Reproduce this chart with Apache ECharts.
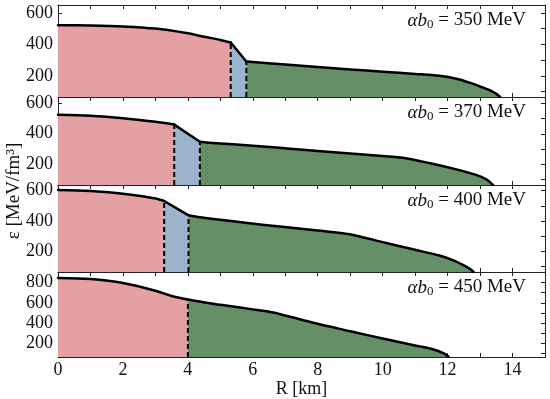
<!DOCTYPE html>
<html>
<head>
<meta charset="utf-8">
<script src="https://cdn.jsdelivr.net/npm/echarts@6/dist/echarts.min.js"></script>
<style>html,body{margin:0;padding:0;background:#fff}#c{width:550px;height:399px}</style>
</head>
<body>
<div id="c"></div>
<script>
// ---- data (R in km, epsilon in MeV/fm^3) ----
const panelLabels = ['350', '370', '400', '450'];
const yMin = [65, 64, 61, 65];
const yMax = [650, 641, 638, 903];
const yLabelTicks = [[200, 400, 600], [200, 400, 600], [200, 400, 600], [200, 400, 600, 800]];
const yMinorTicks = [[100, 200, 300, 400, 500, 600], [100, 200, 300, 400, 500, 600], [100, 200, 300, 400, 500, 600], [100, 200, 300, 400, 500, 600, 700, 800]];
const xTickLabels = [0, 2, 4, 6, 8, 10, 12, 14];

const red350 = [[0,522],[1,520],[2,514],[3,500],[4,470],[4.5,448],[5,428],[5.32,412]];
const blue350 = [[5.32,412],[5.8,291]];
const green350 = [[5.8,291],[7,272],[8,256],[9,240],[10,226],[11,212],[11.75,200],[12.3,180],[12.7,155],[13,132],[13.3,108],[13.5,85],[13.62,65]];

const red370 = [[0,525],[1,518],[2,502],[3,478],[3.58,460]];
const blue370 = [[3.58,460],[4.37,348]];
const green370 = [[4.37,348],[5,336],[6,322],[6.83,308],[7.45,296],[8,287],[9,270],[10,254],[10.62,243],[11.5,205],[12.3,165],[12.88,130],[13.2,100],[13.4,64]];

const red400 = [[0,605],[1,598],[2,580],[2.6,563],[3,548],[3.27,532]];
const blue400 = [[3.27,532],[4.02,437]];
const green400 = [[4.02,437],[4.37,424],[5,408],[5.9,385],[6.83,362],[8,336],[8.98,312],[10,259],[11,208],[11.75,170],[12.2,137],[12.5,105],[12.7,80],[12.8,61]];

const red450 = [[0,845],[1,833],[2,794],[3,718],[3.5,667],[4,632]];
const blue450 = [];
const green450 = [[4,632],[4.37,612],[5,580],[6,535],[6.62,505],[7,475],[7.96,395],[9,320],[10,248],[11,180],[11.55,142],[11.9,100],[12.04,65]];

const reds = [red350, red370, red400, red450];
const blues = [blue350, blue370, blue400, blue450];
const greens = [green350, green370, green400, green450];

// ---- layout ----
const tops = [5, 97, 185, 272];
const heights = [92, 88, 87, 86];
const LEFT = 58, RIGHT = 5;
const FONT = 'Liberation Serif';
const C_RED = '#e4a0a3', C_BLUE = '#9cb3cc', C_GREEN = '#658f66';
const SMOOTH = 0.3;

const grids = [], xAxes = [], yAxes = [], series = [], graphics = [];

for (let i = 0; i < 4; i++) {
  grids.push({left: LEFT, right: RIGHT, top: tops[i], height: heights[i]});
  const last = i === 3;
  const xBase = {
    gridIndex: i, type: 'value', min: 0, max: 15, interval: 1,
    axisLine: {show: true, onZero: false, lineStyle: {color: '#222', width: 1}},
    axisTick: {show: true, inside: true, length: 4, lineStyle: {color: '#222'}},
    splitLine: {show: false}
  };
  xAxes.push(Object.assign({}, xBase, {
    position: 'bottom',
    axisLabel: {show: last, customValues: xTickLabels, fontFamily: FONT, fontSize: 18, color: '#111', margin: 4},
    name: last ? 'R [km]' : '', nameLocation: 'middle', nameGap: 21,
    nameTextStyle: {fontFamily: FONT, fontSize: 18, color: '#111'}
  }));
  xAxes.push(Object.assign({}, xBase, {position: 'top', axisLabel: {show: false}}));

  const yBase = {
    gridIndex: i, type: 'value', min: yMin[i], max: yMax[i],
    axisLine: {show: true, onZero: false, lineStyle: {color: '#222', width: 1}},
    axisTick: {show: true, inside: true, length: 4, customValues: yMinorTicks[i], lineStyle: {color: '#222'}},
    splitLine: {show: false}
  };
  yAxes.push(Object.assign({}, yBase, {
    position: 'left',
    axisLabel: {show: true, customValues: yLabelTicks[i], fontFamily: FONT, fontSize: 18, color: '#111', margin: 5}
  }));
  yAxes.push(Object.assign({}, yBase, {position: 'right', axisLabel: {show: false}}));

  const xi = i * 2, yi = i * 2;
  const seg = (data, color) => {
    series.push({
      type: 'line', xAxisIndex: xi, yAxisIndex: yi, data: data, showSymbol: false, symbol: 'none',
      smooth: SMOOTH,
      lineStyle: {width: 0}, areaStyle: {color: color, opacity: 1, origin: 'start'}, z: 1, silent: true, animation: false
    });
    series.push({
      type: 'line', xAxisIndex: xi, yAxisIndex: yi, data: data, showSymbol: false, symbol: 'none',
      smooth: SMOOTH,
      lineStyle: {color: '#000', width: 2.5, cap: 'round', join: 'round'}, z: 4, animation: false
    });
  };
  seg(reds[i], C_RED);
  if (blues[i].length) seg(blues[i], C_BLUE);
  seg(greens[i], C_GREEN);

  const bounds = [reds[i][reds[i].length - 1]];
  if (blues[i].length) bounds.push(blues[i][blues[i].length - 1]);
  bounds.forEach(p => {
    series.push({
      type: 'line', xAxisIndex: xi, yAxisIndex: yi, data: [[p[0], yMin[i]], [p[0], p[1]]],
      showSymbol: false, symbol: 'none',
      lineStyle: {color: '#000', width: 2, type: [5, 3]}, z: 3, animation: false
    });
  });

  graphics.push({
    type: 'text', right: 24, top: tops[i] + 6,
    style: {
      text: '{i|αb}{s|0}{n| = ' + panelLabels[i] + ' MeV}',
      rich: {
        i: {fontFamily: FONT, fontStyle: 'italic', fontSize: 19, fill: '#111'},
        s: {fontFamily: FONT, fontSize: 13, fill: '#111', padding: [8, 0, 0, 0]},
        n: {fontFamily: FONT, fontSize: 19, fill: '#111'}
      }
    }
  });
}

graphics.push({
  type: 'text', x: 5, y: 191, rotation: Math.PI / 2,
  style: {
    text: 'ε [MeV/fm³]', fontFamily: FONT, fontSize: 19, fill: '#111',
    textAlign: 'center', textVerticalAlign: 'top'
  }
});

const chart = echarts.init(document.getElementById('c'), null, {renderer: 'canvas'});
chart.setOption({
  animation: false,
  grid: grids, xAxis: xAxes, yAxis: yAxes, series: series, graphic: graphics
});
</script>
</body>
</html>
